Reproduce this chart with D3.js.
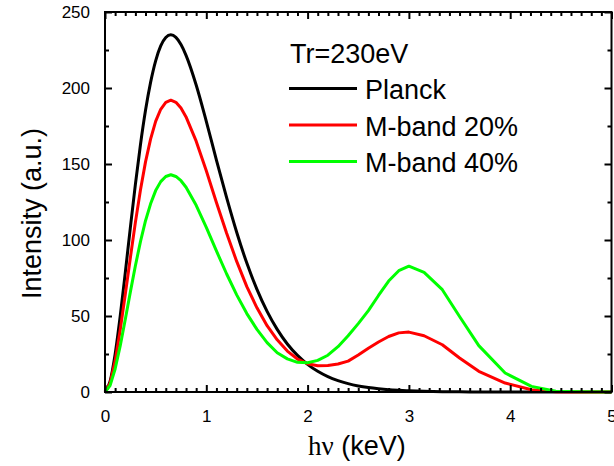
<!DOCTYPE html>
<html>
<head>
<meta charset="utf-8">
<script src="https://cdnjs.cloudflare.com/ajax/libs/d3/7.8.5/d3.min.js"></script>
<style>
  body { margin: 0; background: #fff; }
  svg { display: block; font-family: "Liberation Sans", Arial, sans-serif; }
</style>
</head>
<body>
<div id="chart"></div>
<script>
// photon energy (keV)
const energy = [0, 0.05, 0.1, 0.15, 0.2, 0.25, 0.3, 0.35, 0.4, 0.45, 0.5, 0.55, 0.6, 0.65, 0.7, 0.75, 0.8,
  0.9, 1.0, 1.1, 1.2, 1.3, 1.4, 1.5, 1.6, 1.7, 1.8, 1.9, 2.0, 2.1, 2.2, 2.3, 2.4, 2.5, 2.6, 2.7, 2.8, 2.9, 3.0,
  3.15, 3.33, 3.5, 3.69, 3.95, 4.21, 4.45, 4.7, 5.0]

const planck = [0, 7.0, 24.9, 49.9, 78.4, 108.0, 136.6, 162.7, 185.3, 203.7, 217.9, 227.7, 233.2, 235.0, 233.3, 228.6, 221.5,
  202.0, 178.1, 152.6, 128.0, 105.1, 84.8, 67.5, 53.0, 41.2, 31.6, 24.1, 18.2, 13.6, 10.1, 7.5, 5.5, 4.0, 2.9, 2.1, 1.5, 1.1, 0.8,
  0.45, 0.22, 0.1, 0.05, 0.02, 0, 0, 0, 0]

const mband20 = [0, 5.7, 20.3, 40.8, 64.1, 88.2, 111.6, 132.9, 151.4, 166.4, 178.0, 186.0, 190.5, 192.0, 190.6, 186.8, 181.0,
  165.0, 145.5, 124.7, 104.6, 85.9, 69.3, 55.4, 43.6, 34.3, 26.9, 21.7, 18.6, 17.3, 17.4, 18.4, 20.3, 24.3, 28.8, 32.9, 36.5, 38.9, 39.4,
  37.0, 31.1, 22.4, 13.6, 5.9, 1.5, 0.2, 0, 0]

const mband40 = [0, 4.3, 15.1, 30.3, 47.7, 65.7, 83.1, 98.9, 112.7, 123.8, 132.5, 138.4, 141.8, 142.9, 141.8, 139.0, 134.7,
  122.8, 108.3, 92.8, 77.8, 63.9, 51.6, 41.2, 32.5, 25.8, 21.8, 19.5, 19.3, 20.8, 24.2, 29.8, 37.0, 45.0, 53.5, 63.5, 73.0, 79.8, 82.8,
  78.7, 67.3, 49.7, 30.5, 12.5, 3.7, 0.5, 0.1, 0]

const seriesNames = ['Planck', 'M-band 20%', 'M-band 40%']
const seriesColors = ['#000000', '#ff0000', '#00ff00']
const xTicks = [0, 1, 2, 3, 4, 5]
const yTicks = [0, 50, 100, 150, 200, 250]

const width = 614, height = 466

const svg = d3.select('#chart').append('svg')
  .attr('width', width)
  .attr('height', height)

const scaleX = d3.scaleLinear().domain([0, 5]).range([105, 611.5])
const scaleY = d3.scaleLinear().domain([0, 250]).range([392, 12])

const plotLeft = scaleX(0), plotRight = scaleX(5), plotTop = scaleY(250), plotBottom = scaleY(0)

// curves
const line = d3.line()
  .x((d, i) => scaleX(energy[i]))
  .y(d => scaleY(d))

const series = [planck, mband20, mband40]
svg.append('g').selectAll('path')
  .data(series)
  .enter()
  .append('path')
  .attr('d', (d, i) => line.curve(i === 0 ? d3.curveMonotoneX : d3.curveLinear)(d))
  .attr('fill', 'none')
  .attr('stroke', (d, i) => seriesColors[i])
  .attr('stroke-width', 3)
  .attr('stroke-linejoin', 'round')

// axes, ticks pointing inward on all four sides
const xMinor = d3.range(0, 51).map(d => d / 10).filter(d => Math.abs(d - Math.round(d)) > 1e-6)
const yMinor = d3.range(25, 250, 50)

const axisBottom = d3.axisBottom(scaleX).tickValues(xTicks).tickSize(-7).tickPadding(18).tickFormat(d3.format('d'))
const axisTop = d3.axisTop(scaleX).tickValues(xTicks).tickSize(-7).tickFormat('')
const axisLeft = d3.axisLeft(scaleY).tickValues(yTicks).tickSize(-7).tickPadding(15).tickFormat(d3.format('d'))
const axisRight = d3.axisRight(scaleY).tickValues(yTicks).tickSize(-7).tickFormat('')

const minorBottom = d3.axisBottom(scaleX).tickValues(xMinor).tickSize(-4).tickFormat('')
const minorTop = d3.axisTop(scaleX).tickValues(xMinor).tickSize(-4).tickFormat('')
const minorLeft = d3.axisLeft(scaleY).tickValues(yMinor).tickSize(-4).tickFormat('')
const minorRight = d3.axisRight(scaleY).tickValues(yMinor).tickSize(-4).tickFormat('')

function drawAxis(axis, tx, ty) {
  const g = svg.append('g')
    .attr('transform', `translate(${tx},${ty})`)
    .call(axis)
  g.select('.domain').remove()
  g.selectAll('line').attr('stroke', '#000').attr('stroke-width', 2)
  g.selectAll('text').attr('font-size', 17).attr('fill', '#000')
    .attr('font-family', '"Liberation Sans", Arial, sans-serif')
  return g
}

drawAxis(minorBottom, 0, plotBottom)
drawAxis(minorTop, 0, plotTop)
drawAxis(minorLeft, plotLeft, 0)
drawAxis(minorRight, plotRight, 0)
drawAxis(axisBottom, 0, plotBottom)
drawAxis(axisTop, 0, plotTop)
drawAxis(axisLeft, plotLeft, 0)
drawAxis(axisRight, plotRight, 0)

svg.append('rect')
  .attr('x', plotLeft)
  .attr('y', plotTop)
  .attr('width', plotRight - plotLeft)
  .attr('height', plotBottom - plotTop)
  .attr('fill', 'none')
  .attr('stroke', '#000')
  .attr('stroke-width', 2)

// axis titles
const xTitle = svg.append('text')
  .attr('x', 308)
  .attr('y', 455)
  .attr('font-size', 27)
  .attr('fill', '#000')
xTitle.append('tspan')
  .attr('font-family', '"Liberation Serif", "Times New Roman", serif')
  .text('hν')
xTitle.append('tspan')
  .text(' (keV)')

svg.append('text')
  .attr('transform', `translate(41,${(120 + 307) / 2}) rotate(-90)`)
  .attr('text-anchor', 'middle')
  .attr('font-size', 27)
  .attr('fill', '#000')
  .text('Intensity (a.u.)')

// legend
svg.append('text')
  .attr('x', 290)
  .attr('y', 63)
  .attr('font-size', 27)
  .attr('fill', '#000')
  .text('Tr=230eV')

const legend = svg.append('g')
const legendItems = legend.selectAll('g')
  .data(seriesNames)
  .enter()
  .append('g')
  .attr('transform', (d, i) => `translate(0,${88.5 + i * 36.5})`)

legendItems.append('line')
  .attr('x1', 289)
  .attr('x2', 357)
  .attr('y1', 0)
  .attr('y2', 0)
  .attr('stroke', (d, i) => seriesColors[i])
  .attr('stroke-width', 3)

legendItems.append('text')
  .attr('x', 365)
  .attr('y', 10.5)
  .attr('font-size', 27)
  .attr('fill', '#000')
  .text(d => d)
</script>
</body>
</html>
